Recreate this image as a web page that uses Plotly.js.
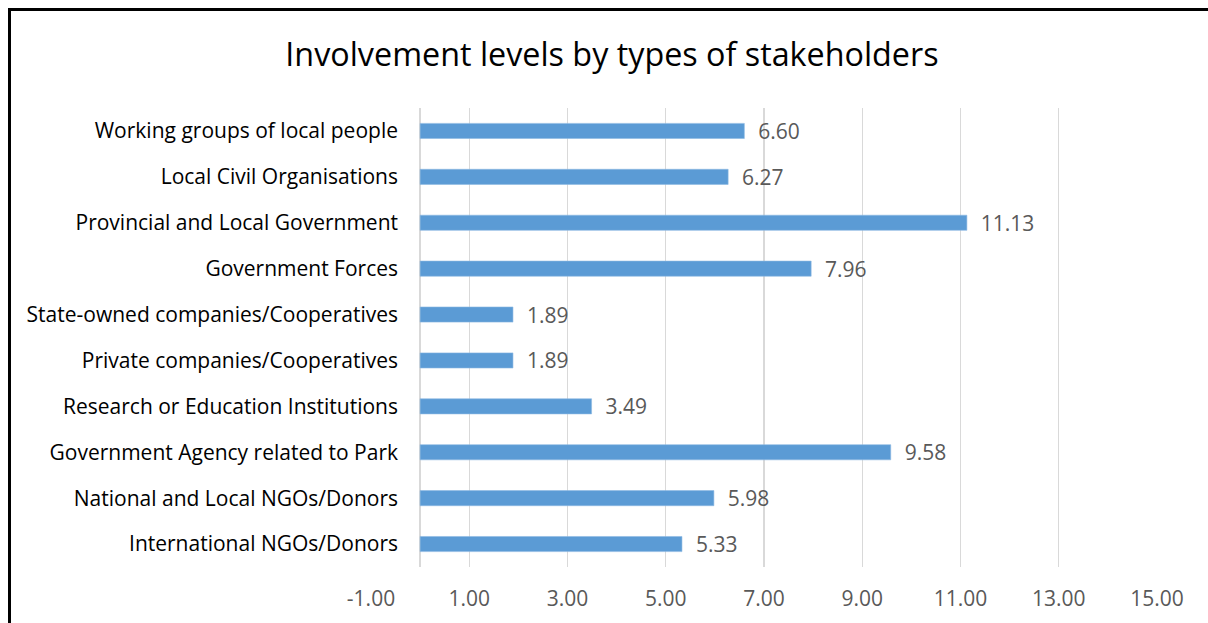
<!DOCTYPE html>
<html>
<head>
<meta charset="utf-8">
<script src="https://cdn.plot.ly/plotly-3.0.1.min.js"></script>
<style>
  html, body { margin: 0; padding: 0; background: #fff; overflow: hidden; }
  #chart { width: 1208px; height: 623px; position: absolute; left: 0; top: 0; }
  #frame { position: absolute; left: 8px; top: 8px; width: 1300px; height: 700px;
           border-left: 3px solid #000; border-top: 3px solid #000; pointer-events: none; }
</style>
</head>
<body>
<div id="chart"></div>
<div id="frame"></div>
<script>
const categories = [
  "Working groups of local people",
  "Local Civil Organisations",
  "Provincial and Local Government",
  "Government Forces",
  "State-owned companies/Cooperatives",
  "Private companies/Cooperatives",
  "Research or Education Institutions",
  "Government Agency related to Park",
  "National and Local NGOs/Donors",
  "International NGOs/Donors"
];
const values = [6.60, 6.27, 11.13, 7.96, 1.89, 1.89, 3.49, 9.58, 5.98, 5.33];
const xTickVals = [-1, 1, 3, 5, 7, 9, 11, 13, 15];
const xTickText = ["-1.00", "1.00", "3.00", "5.00", "7.00", "9.00", "11.00", "13.00", "15.00"];
const chartTitle = "Involvement levels by types of stakeholders";

const FONT = "'Open Sans', Lato, sans-serif";

const trace = {
  type: "bar",
  orientation: "h",
  x: values,
  y: categories,
  width: 0.33,
  marker: { color: "#5B9BD5", line: { color: "#8DB8E3", width: 0.6 } },
  texttemplate: "\u00a0\u00a0%{x:.2f}",
  textposition: "outside",
  constraintext: "none",
  textfont: { family: FONT, size: 21, color: "#595959" },
  cliponaxis: false,
  hoverinfo: "none"
};

const layout = {
  width: 1208,
  height: 623,
  margin: { l: 370.5, r: 50.7, t: 107.7, b: 56, pad: 0 },
  paper_bgcolor: "#ffffff",
  plot_bgcolor: "#ffffff",
  showlegend: false,
  font: { family: FONT, color: "#000" },
  title: {
    text: chartTitle,
    font: { family: FONT, size: 32.3, color: "#000" },
    xref: "container", yref: "container",
    x: 0.5066, y: 0.9117, xanchor: "center", yanchor: "middle"
  },
  xaxis: {
    range: [-1, 15],
    tickvals: xTickVals,
    ticktext: xTickText,
    showgrid: true,
    gridcolor: "#D9D9D9",
    gridwidth: 1.3,
    zeroline: true,
    zerolinecolor: "#D9D9D9",
    zerolinewidth: 1.3,
    showline: false,
    ticks: "",
    ticklabelstandoff: 17,
    tickfont: { family: FONT, size: 21, color: "#595959" },
    fixedrange: true
  },
  yaxis: {
    autorange: "reversed",
    showgrid: false,
    zeroline: false,
    showline: false,
    ticks: "",
    ticklabelstandoff: -28,
    tickfont: { family: FONT, size: 21, color: "#000" },
    fixedrange: true
  }
};

Plotly.newPlot("chart", [trace], layout, { staticPlot: true, displayModeBar: false });
</script>
</body>
</html>
